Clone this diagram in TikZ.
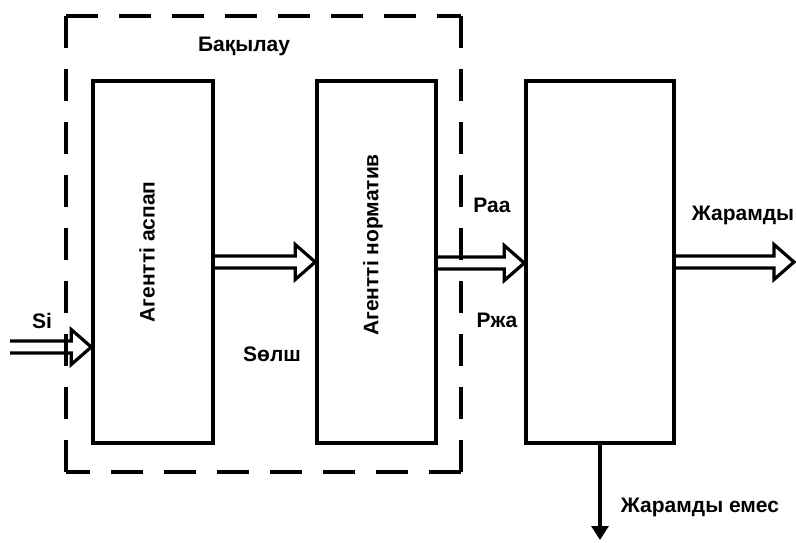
\documentclass[tikz,border=0pt]{standalone}
\usepackage{fontspec}
\setmainfont{Liberation Sans}
\usetikzlibrary{arrows.meta,calc}
\begin{document}
\begin{tikzpicture}[x=1pt,y=-1pt,
  blk/.style={draw,line width=3.5pt,inner sep=0pt},
  lbl/.style={font=\bfseries\fontsize{21}{24}\selectfont,inner sep=0pt},
  dsh/.style={line width=3.5pt,dash pattern=on 32pt off 21pt},
  dblarr/.style={draw,line width=3.2pt,line join=miter,to path={let \p1=(\tikztostart), \p2=(\tikztotarget) in
     (\x1,\y1+6pt) -- (\x2-20pt,\y1+6pt) -- (\x2-20pt,\y1+17.5pt) -- (\x2,\y1) -- (\x2-20pt,\y1-17.5pt) -- (\x2-20pt,\y1-6pt) -- (\x1,\y1-6pt)}},
  sgl/.style={draw,line width=3.2pt,-{Triangle[length=14pt,width=17pt]}}]
\useasboundingbox (0,0) rectangle (796,542);
\coordinate (dtl) at (66,16);
\coordinate (dbr) at (461,472);
\draw[dsh] (dtl) -- (dtl -| dbr);
\draw[dsh] (dtl) -- (dtl |- dbr);
\draw[dsh] (dbr) -- (dbr -| dtl);
\draw[dsh] (dbr) -- (dbr |- dtl);
\node[blk,minimum width=120pt,minimum height=362pt] (b1) at (153,262) {};
\node[blk,minimum width=119pt,minimum height=362pt] (b2) at (376.5,262) {};
\node[blk,minimum width=148pt,minimum height=362pt] (b3) at (600,262) {};
\node[lbl,rotate=90] (t1) at (147,252) {Агентті аспап};
\node[lbl,rotate=90] (t2) at (373,245) {Агентті норматив};
\node[lbl] (bak) at (244,46) {Бақылау};
\node[lbl] (si) at (42,321) {Si};
\node[lbl] (sol) at (272,354) {Sөлш};
\node[lbl] (raa) at (492,205) {Раа};
\node[lbl] (rzha) at (497,320) {Ржа};
\node[lbl] (zh) at (743,215) {Жарамды};
\node[lbl] (zhe) at (700,507) {Жарамды емес};
\coordinate (in) at (10,347);
\coordinate (out) at (794,262);
\coordinate (down) at (600,540);
\draw[dblarr] (in) to (b1.west |- in);
\draw[dblarr] (b1.east |- 0,262) to (b2.west |- 0,262);
\draw[dblarr] (b2.east |- 0,263) to (b3.west |- 0,263);
\draw[dblarr] (b3.east |- out) to (out);
\draw[sgl] (b3.south -| down) -- (down);
\end{tikzpicture}
\end{document}
